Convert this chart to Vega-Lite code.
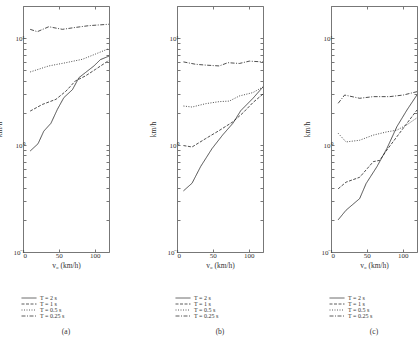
{
  "$schema": "https://vega.github.io/schema/vega-lite/v6.json",
  "padding": {"left": -5, "top": 5, "right": 0, "bottom": 0},
  "background": "white",
  "config": {
    "font": "Liberation Serif",
    "view": {"stroke": "#777", "strokeWidth": 1},
    "axis": {"domain": false, "grid": false, "tickColor": "#777", "tickSize": -3, "labelFont": "Liberation Serif", "labelFontSize": 7, "labelColor": "#333", "titleFont": "Liberation Serif", "titleFontSize": 7.5, "titleFontWeight": "normal", "titleColor": "#333"},
    "legend": {"labelFont": "Liberation Serif", "labelFontSize": 6, "labelColor": "#333"},
    "title": {"font": "Liberation Serif", "fontSize": 7.5, "fontWeight": "normal", "color": "#333"}
  },
  "datasets": {
    "d": [
      {"p":"a","T":"T = 2 s","v":10,"s":0.88},{"p":"a","T":"T = 2 s","v":21,"s":1.03},{"p":"a","T":"T = 2 s","v":29,"s":1.35},{"p":"a","T":"T = 2 s","v":39,"s":1.6},{"p":"a","T":"T = 2 s","v":48,"s":2.16},{"p":"a","T":"T = 2 s","v":57,"s":2.78},{"p":"a","T":"T = 2 s","v":69,"s":3.3},{"p":"a","T":"T = 2 s","v":78,"s":4.27},{"p":"a","T":"T = 2 s","v":87,"s":4.76},{"p":"a","T":"T = 2 s","v":99,"s":5.5},{"p":"a","T":"T = 2 s","v":108,"s":6.3},{"p":"a","T":"T = 2 s","v":120,"s":6.8},
      {"p":"a","T":"T = 1 s","v":10,"s":2.08},{"p":"a","T":"T = 1 s","v":27,"s":2.4},{"p":"a","T":"T = 1 s","v":46,"s":2.68},{"p":"a","T":"T = 1 s","v":60,"s":3.2},{"p":"a","T":"T = 1 s","v":73,"s":3.98},{"p":"a","T":"T = 1 s","v":87,"s":4.43},{"p":"a","T":"T = 1 s","v":101,"s":5.1},{"p":"a","T":"T = 1 s","v":120,"s":6.2},
      {"p":"a","T":"T = 0.5 s","v":10,"s":4.83},{"p":"a","T":"T = 0.5 s","v":36,"s":5.5},{"p":"a","T":"T = 0.5 s","v":60,"s":5.9},{"p":"a","T":"T = 0.5 s","v":83,"s":6.35},{"p":"a","T":"T = 0.5 s","v":101,"s":7.1},{"p":"a","T":"T = 0.5 s","v":120,"s":8.0},
      {"p":"a","T":"T = 0.25 s","v":10,"s":12.1},{"p":"a","T":"T = 0.25 s","v":20,"s":11.5},{"p":"a","T":"T = 0.25 s","v":36,"s":12.8},{"p":"a","T":"T = 0.25 s","v":55,"s":12.1},{"p":"a","T":"T = 0.25 s","v":73,"s":12.6},{"p":"a","T":"T = 0.25 s","v":92,"s":13.1},{"p":"a","T":"T = 0.25 s","v":106,"s":13.3},{"p":"a","T":"T = 0.25 s","v":120,"s":13.5},

      {"p":"b","T":"T = 2 s","v":9,"s":0.373},{"p":"b","T":"T = 2 s","v":21,"s":0.44},{"p":"b","T":"T = 2 s","v":33,"s":0.63},{"p":"b","T":"T = 2 s","v":49,"s":0.93},{"p":"b","T":"T = 2 s","v":64,"s":1.25},{"p":"b","T":"T = 2 s","v":78,"s":1.6},{"p":"b","T":"T = 2 s","v":89,"s":2.1},{"p":"b","T":"T = 2 s","v":106,"s":2.74},{"p":"b","T":"T = 2 s","v":120,"s":3.5},
      {"p":"b","T":"T = 1 s","v":9,"s":0.99},{"p":"b","T":"T = 1 s","v":21,"s":0.96},{"p":"b","T":"T = 1 s","v":40,"s":1.15},{"p":"b","T":"T = 1 s","v":59,"s":1.37},{"p":"b","T":"T = 1 s","v":78,"s":1.65},{"p":"b","T":"T = 1 s","v":92,"s":2.0},{"p":"b","T":"T = 1 s","v":106,"s":2.5},{"p":"b","T":"T = 1 s","v":120,"s":3.0},
      {"p":"b","T":"T = 0.5 s","v":9,"s":2.32},{"p":"b","T":"T = 0.5 s","v":21,"s":2.27},{"p":"b","T":"T = 0.5 s","v":40,"s":2.44},{"p":"b","T":"T = 0.5 s","v":59,"s":2.55},{"p":"b","T":"T = 0.5 s","v":73,"s":2.58},{"p":"b","T":"T = 0.5 s","v":87,"s":2.88},{"p":"b","T":"T = 0.5 s","v":106,"s":3.1},{"p":"b","T":"T = 0.5 s","v":120,"s":3.5},
      {"p":"b","T":"T = 0.25 s","v":9,"s":6.0},{"p":"b","T":"T = 0.25 s","v":26,"s":5.7},{"p":"b","T":"T = 0.25 s","v":40,"s":5.6},{"p":"b","T":"T = 0.25 s","v":59,"s":5.5},{"p":"b","T":"T = 0.25 s","v":71,"s":5.9},{"p":"b","T":"T = 0.25 s","v":87,"s":5.8},{"p":"b","T":"T = 0.25 s","v":101,"s":6.1},{"p":"b","T":"T = 0.25 s","v":120,"s":6.0},

      {"p":"c","T":"T = 2 s","v":10,"s":0.2},{"p":"c","T":"T = 2 s","v":21,"s":0.246},{"p":"c","T":"T = 2 s","v":40,"s":0.316},{"p":"c","T":"T = 2 s","v":49,"s":0.437},{"p":"c","T":"T = 2 s","v":64,"s":0.627},{"p":"c","T":"T = 2 s","v":78,"s":0.93},{"p":"c","T":"T = 2 s","v":92,"s":1.49},{"p":"c","T":"T = 2 s","v":106,"s":2.13},{"p":"c","T":"T = 2 s","v":120,"s":2.95},
      {"p":"c","T":"T = 1 s","v":10,"s":0.39},{"p":"c","T":"T = 1 s","v":21,"s":0.45},{"p":"c","T":"T = 1 s","v":40,"s":0.5},{"p":"c","T":"T = 1 s","v":59,"s":0.7},{"p":"c","T":"T = 1 s","v":68,"s":0.72},{"p":"c","T":"T = 1 s","v":78,"s":0.9},{"p":"c","T":"T = 1 s","v":92,"s":1.2},{"p":"c","T":"T = 1 s","v":106,"s":1.6},{"p":"c","T":"T = 1 s","v":120,"s":2.13},
      {"p":"c","T":"T = 0.5 s","v":10,"s":1.29},{"p":"c","T":"T = 0.5 s","v":21,"s":1.07},{"p":"c","T":"T = 0.5 s","v":40,"s":1.11},{"p":"c","T":"T = 0.5 s","v":59,"s":1.24},{"p":"c","T":"T = 0.5 s","v":78,"s":1.33},{"p":"c","T":"T = 0.5 s","v":92,"s":1.38},{"p":"c","T":"T = 0.5 s","v":106,"s":1.55},{"p":"c","T":"T = 0.5 s","v":120,"s":1.8},
      {"p":"c","T":"T = 0.25 s","v":10,"s":2.46},{"p":"c","T":"T = 0.25 s","v":19,"s":2.94},{"p":"c","T":"T = 0.25 s","v":40,"s":2.74},{"p":"c","T":"T = 0.25 s","v":59,"s":2.84},{"p":"c","T":"T = 0.25 s","v":82,"s":2.84},{"p":"c","T":"T = 0.25 s","v":101,"s":2.94},{"p":"c","T":"T = 0.25 s","v":120,"s":3.16}
    ]
  },
  "hconcat": [
    {
      "width": 86, "height": 246,
      "title": {"text": "(a)", "orient": "bottom", "offset": 9},
      "data": {"name": "d"},
      "transform": [{"filter": "datum.p == 'a'"}],
      "layer": [
        {"mark": {"type": "line", "strokeWidth": 0.8, "color": "#222"},
         "encoding": {
           "x": {"field": "v", "type": "quantitative", "scale": {"domain": [0, 120], "nice": false}, "axis": {"values": [0, 50, 100], "title": "v₀ (km/h)", "labelPadding": 2, "titlePadding": 3}},
           "y": {"field": "s", "type": "quantitative", "scale": {"type": "log", "domain": [0.1, 20], "nice": false}, "axis": {"values": [0.1,0.2,0.3,0.4,0.5,0.6,0.7,0.8,0.9,1,2,3,4,5,6,7,8,9,10,20], "labelExpr": "datum.value == 10 ? '10¹' : datum.value == 1 ? '10⁰' : datum.value == 0.1 ? '10⁻¹' : ''", "title": "km/h", "labelPadding": 2, "titlePadding": 9}},
           "strokeDash": {"field": "T", "type": "nominal", "scale": {"domain": ["T = 2 s", "T = 1 s", "T = 0.5 s", "T = 0.25 s"], "range": [[1, 0], [3, 1.5], [1, 1.5], [4, 1.5, 1, 1.5]]},
             "legend": {"orient": "none", "legendX": 3, "legendY": 289, "title": null, "symbolType": "M-3,0H3", "symbolSize": 25, "symbolStrokeWidth": 0.8, "symbolStrokeColor": "#333", "labelOffset": 8, "rowPadding": -1}}
         }},
        {"mark": {"type": "line", "opacity": 0},
         "encoding": {
           "x": {"field": "v", "type": "quantitative", "scale": {"domain": [0, 120], "nice": false}, "axis": {"orient": "top", "values": [0, 50, 100], "labels": false, "title": null}},
           "y": {"field": "s", "type": "quantitative", "scale": {"type": "log", "domain": [0.1, 20], "nice": false}, "axis": {"orient": "right", "values": [0.1,0.2,0.3,0.4,0.5,0.6,0.7,0.8,0.9,1,2,3,4,5,6,7,8,9,10,20], "labels": false, "title": null}},
           "detail": {"field": "T"}
         }}
      ],
      "resolve": {"scale": {"x": "independent", "y": "independent"}}
    },
    {
      "width": 86, "height": 246,
      "title": {"text": "(b)", "orient": "bottom", "offset": 9},
      "data": {"name": "d"},
      "transform": [{"filter": "datum.p == 'b'"}],
      "layer": [
        {"mark": {"type": "line", "strokeWidth": 0.8, "color": "#222"},
         "encoding": {
           "x": {"field": "v", "type": "quantitative", "scale": {"domain": [0, 120], "nice": false}, "axis": {"values": [0, 50, 100], "title": "v₀ (km/h)", "labelPadding": 2, "titlePadding": 3}},
           "y": {"field": "s", "type": "quantitative", "scale": {"type": "log", "domain": [0.1, 20], "nice": false}, "axis": {"values": [0.1,0.2,0.3,0.4,0.5,0.6,0.7,0.8,0.9,1,2,3,4,5,6,7,8,9,10,20], "labelExpr": "datum.value == 10 ? '10¹' : datum.value == 1 ? '10⁰' : datum.value == 0.1 ? '10⁻¹' : ''", "title": "km/h", "labelPadding": 2, "titlePadding": 9}},
           "strokeDash": {"field": "T", "type": "nominal", "scale": {"domain": ["T = 2 s", "T = 1 s", "T = 0.5 s", "T = 0.25 s"], "range": [[1, 0], [3, 1.5], [1, 1.5], [4, 1.5, 1, 1.5]]},
             "legend": {"orient": "none", "legendX": 3, "legendY": 289, "title": null, "symbolType": "M-3,0H3", "symbolSize": 25, "symbolStrokeWidth": 0.8, "symbolStrokeColor": "#333", "labelOffset": 8, "rowPadding": -1}}
         }},
        {"mark": {"type": "line", "opacity": 0},
         "encoding": {
           "x": {"field": "v", "type": "quantitative", "scale": {"domain": [0, 120], "nice": false}, "axis": {"orient": "top", "values": [0, 50, 100], "labels": false, "title": null}},
           "y": {"field": "s", "type": "quantitative", "scale": {"type": "log", "domain": [0.1, 20], "nice": false}, "axis": {"orient": "right", "values": [0.1,0.2,0.3,0.4,0.5,0.6,0.7,0.8,0.9,1,2,3,4,5,6,7,8,9,10,20], "labels": false, "title": null}},
           "detail": {"field": "T"}
         }}
      ],
      "resolve": {"scale": {"x": "independent", "y": "independent"}}
    },
    {
      "width": 86, "height": 246,
      "title": {"text": "(c)", "orient": "bottom", "offset": 9},
      "data": {"name": "d"},
      "transform": [{"filter": "datum.p == 'c'"}],
      "layer": [
        {"mark": {"type": "line", "strokeWidth": 0.8, "color": "#222"},
         "encoding": {
           "x": {"field": "v", "type": "quantitative", "scale": {"domain": [0, 120], "nice": false}, "axis": {"values": [0, 50, 100], "title": "v₀ (km/h)", "labelPadding": 2, "titlePadding": 3}},
           "y": {"field": "s", "type": "quantitative", "scale": {"type": "log", "domain": [0.1, 20], "nice": false}, "axis": {"values": [0.1,0.2,0.3,0.4,0.5,0.6,0.7,0.8,0.9,1,2,3,4,5,6,7,8,9,10,20], "labelExpr": "datum.value == 10 ? '10¹' : datum.value == 1 ? '10⁰' : datum.value == 0.1 ? '10⁻¹' : ''", "title": "km/h", "labelPadding": 2, "titlePadding": 9}},
           "strokeDash": {"field": "T", "type": "nominal", "scale": {"domain": ["T = 2 s", "T = 1 s", "T = 0.5 s", "T = 0.25 s"], "range": [[1, 0], [3, 1.5], [1, 1.5], [4, 1.5, 1, 1.5]]},
             "legend": {"orient": "none", "legendX": 3, "legendY": 289, "title": null, "symbolType": "M-3,0H3", "symbolSize": 25, "symbolStrokeWidth": 0.8, "symbolStrokeColor": "#333", "labelOffset": 8, "rowPadding": -1}}
         }},
        {"mark": {"type": "line", "opacity": 0},
         "encoding": {
           "x": {"field": "v", "type": "quantitative", "scale": {"domain": [0, 120], "nice": false}, "axis": {"orient": "top", "values": [0, 50, 100], "labels": false, "title": null}},
           "y": {"field": "s", "type": "quantitative", "scale": {"type": "log", "domain": [0.1, 20], "nice": false}, "axis": {"orient": "right", "values": [0.1,0.2,0.3,0.4,0.5,0.6,0.7,0.8,0.9,1,2,3,4,5,6,7,8,9,10,20], "labels": false, "title": null}},
           "detail": {"field": "T"}
         }}
      ],
      "resolve": {"scale": {"x": "independent", "y": "independent"}}
    }
  ],
  "spacing": 68,
  "bounds": "flush",
  "resolve": {"legend": {"strokeDash": "independent"}}
}
